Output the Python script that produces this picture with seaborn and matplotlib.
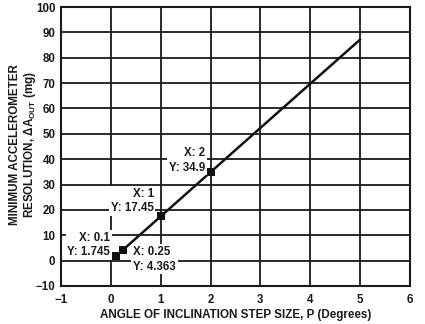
import matplotlib
matplotlib.use("Agg")
import matplotlib.pyplot as plt
import seaborn as sns
import pandas as pd

# data
line_x = [0.1, 0.25, 1, 2, 3, 4, 5]
line_y = [1.745, 4.363, 17.45, 34.9, 52.34, 69.76, 87.16]
mark_x = [0.1, 0.25, 1, 2]
mark_y = [1.745, 4.363, 17.45, 34.9]
mark_labels = ["X: 0.1\nY: 1.745", "X: 0.25\nY: 4.363", "X: 1\nY: 17.45", "X: 2\nY: 34.9"]
x_ticks = [-1, 0, 1, 2, 3, 4, 5, 6]
x_tick_labels = ["\u22121", "0", "1", "2", "3", "4", "5", "6"]
y_ticks = [-10, 0, 10, 20, 30, 40, 50, 60, 70, 80, 90, 100]
y_tick_labels = ["\u221210", "0", "10", "20", "30", "40", "50", "60", "70", "80", "90", "100"]

sns.set_style("white")
plt.rcParams['font.family'] = ['Liberation Sans', 'DejaVu Sans']
plt.rcParams['font.weight'] = 'bold'
plt.rcParams['mathtext.fontset'] = 'custom'
plt.rcParams['mathtext.rm'] = 'Liberation Sans:bold'
plt.rcParams['mathtext.bf'] = 'Liberation Sans:bold'
plt.rcParams['mathtext.it'] = 'Liberation Sans:bold'

fig = plt.figure(figsize=(4.25, 3.24), dpi=100)
ax = fig.add_axes([61/425, 1-286/324, (410-61)/425, (286-7)/324])

line_df = pd.DataFrame({"x": line_x, "y": line_y})
mark_df = pd.DataFrame({"x": mark_x, "y": mark_y})

ax.set_xlim(-1, 6)
ax.set_ylim(-10, 100)
ax.set_xticks(x_ticks)
ax.set_xticklabels(x_tick_labels)
ax.set_yticks(y_ticks)
ax.set_yticklabels(y_tick_labels)
ax.grid(True, color="#1a1a1a", linewidth=1.3)
ax.set_axisbelow(True)
for s in ax.spines.values():
    s.set_color("#1a1a1a")
    s.set_linewidth(1.5)
ax.tick_params(axis="y", length=0, pad=4, labelsize=8.3, colors="#1a1a1a")
ax.tick_params(axis="x", length=0, pad=6, labelsize=8.3, colors="#1a1a1a")

sns.lineplot(data=line_df, x="x", y="y", ax=ax, color="#111111", linewidth=1.8, zorder=3)
sns.scatterplot(data=mark_df, x="x", y="y", ax=ax, marker="s", color="#111111", s=28,
                edgecolor="#111111", linewidth=0, zorder=4)

# annotations: offsets in points
offsets = [(-4, 8), (7, -7), (-5, 11), (-4, 8.5)]
aligns = ["right", "left", "right", "right"]
for (x, y, lab, off, ha) in zip(mark_x, mark_y, mark_labels, offsets, aligns):
    ax.annotate(lab, (x, y), xytext=off, textcoords="offset points", ha=ha, va="center",
                multialignment=ha, fontsize=8.3, fontweight="bold", color="#1a1a1a",
                linespacing=1.3,
                bbox=dict(boxstyle="square,pad=0.15", fc="white", ec="none"), zorder=5)

ax.set_xlabel("ANGLE OF INCLINATION STEP SIZE, P (Degrees)", fontsize=8.4, fontweight="bold",
              color="#1a1a1a")
ax.set_ylabel("MINIMUM ACCELEROMETER\nRESOLUTION, \u0394A$_{\\mathrm{OUT}}$ (mg)", fontsize=8.4,
              fontweight="bold", color="#1a1a1a", linespacing=1.1)
ax.xaxis.set_label_coords(0.5, (286 - 309) / 279)
ax.yaxis.set_label_coords((38 - 61) / 349, (286 - 145) / 279)

fig.savefig("out.png", dpi=100)
